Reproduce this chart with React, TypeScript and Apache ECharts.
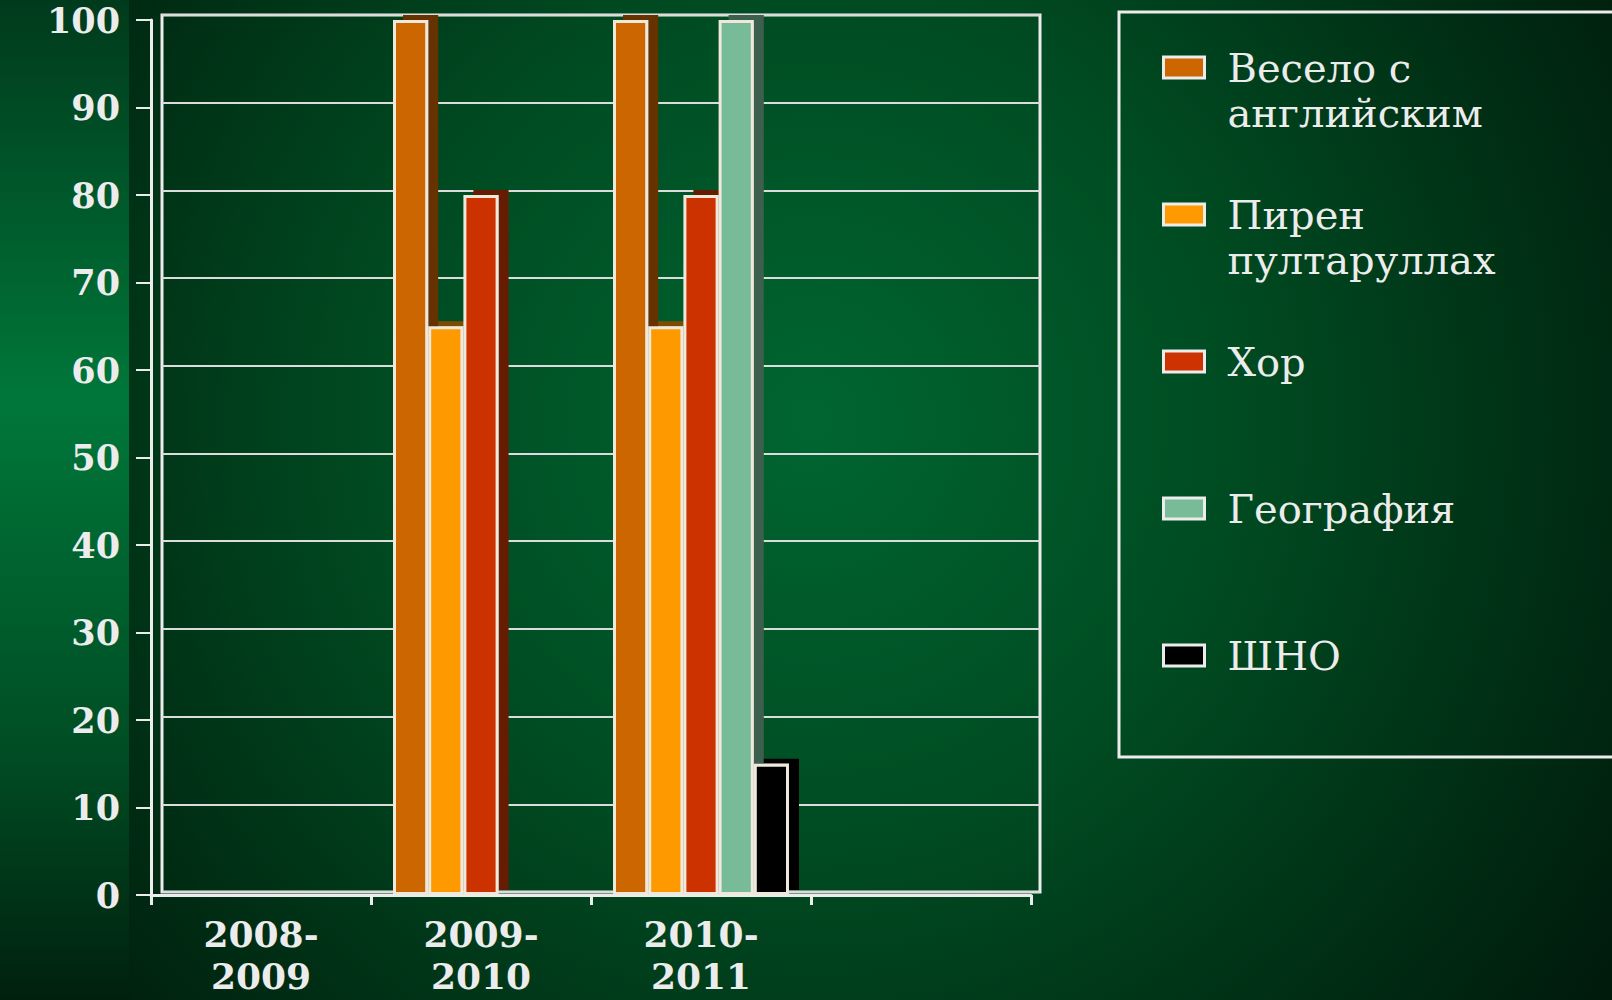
import React, { useEffect, useRef } from "react";
import * as echarts from "echarts";

const categories = ["2008-\n2009", "2009-\n2010", "2010-\n2011", ""];
const seriesNames = ["Весело с английским", "Пирен пултаруллах", "Хор", "География", "ШНО"];
const legendLabels = ["Весело с\nанглийским", "Пирен\nпултаруллах", "Хор", "География", "ШНО"];
const veseloValues = [0, 100, 100, null];
const pirenValues = [0, 65, 65, null];
const horValues = [0, 80, 80, null];
const geoValues = [0, 0, 100, null];
const shnoValues = [0, 0, 15, null];
const seriesValues = [veseloValues, pirenValues, horValues, geoValues, shnoValues];
const faceColors = ["#CC6600", "#FF9900", "#CC3300", "#77BB99", "#000000"];
const sideColors = ["#663300", "#7f4c00", "#661a00", "#3c5e4d", "#000000"];
const yMin = 0;
const yMax = 100;
const yStep = 10;

const SERIF = "'DejaVu Serif', 'Liberation Serif', serif";
const LIGHT = "#ececec";
const LEG_LH = 45;

export default function App() {
  const ref = useRef<HTMLDivElement>(null);
  useEffect(() => {
    if (!ref.current) return;
    const chart = echarts.init(ref.current, null, { renderer: "svg" });
    const richStyle = {
      t: { color: LIGHT, fontFamily: SERIF, fontSize: 40, lineHeight: LEG_LH },
    };
    chart.setOption({
      animation: false,
      backgroundColor: "#002a15",
      graphic: [
        {
          type: "rect",
          z: -10,
          silent: true,
          shape: { x: 0, y: 0, width: 1612, height: 1000 },
          style: {
            fill: {
              type: "radial",
              x: 810,
              y: 420,
              r: 980,
              global: true,
              colorStops: [
                { offset: 0, color: "#006631" },
                { offset: 0.45, color: "#004a21" },
                { offset: 0.8, color: "#002b13" },
                { offset: 1, color: "#001a0b" },
              ],
            },
          },
        },
        {
          type: "rect",
          z: -9,
          silent: true,
          shape: { x: 0, y: 0, width: 129, height: 1000 },
          style: {
            fill: {
              type: "linear",
              x: 0,
              y: 0,
              x2: 0,
              y2: 1,
              colorStops: [
                { offset: 0, color: "#003a1c" },
                { offset: 0.4, color: "#00773a" },
                { offset: 0.75, color: "#004d24" },
                { offset: 1, color: "#00200e" },
              ],
            },
          },
        },
        {
          type: "rect",
          z: 5,
          silent: true,
          shape: { x: 1119, y: 12, width: 600, height: 745 },
          style: { fill: "transparent", stroke: LIGHT, lineWidth: 3 },
        },
      ],
      grid: [
        { left: 151, right: 581, top: 20, bottom: 105, outerBoundsMode: "none", containLabel: false },
        {
          left: 162,
          width: 878,
          top: 15,
          bottom: 108,
          show: true,
          borderColor: LIGHT,
          borderWidth: 3,
          backgroundColor: "transparent",
          z: 0,
          outerBoundsMode: "none",
          containLabel: false,
        },
      ],
      xAxis: [
        {
          type: "category",
          gridIndex: 0,
          data: categories,
          axisLine: { show: true, lineStyle: { color: LIGHT, width: 3 } },
          axisTick: { show: true, length: 10, lineStyle: { color: LIGHT, width: 3 } },
          axisLabel: {
            color: LIGHT,
            fontFamily: SERIF,
            fontWeight: "bold",
            fontSize: 36,
            lineHeight: 42,
            margin: 18,
          },
          z: 3,
        },
        {
          type: "category",
          gridIndex: 1,
          data: categories,
          show: false,
        },
      ],
      yAxis: [
        {
          type: "value",
          gridIndex: 0,
          min: yMin,
          max: yMax,
          interval: yStep,
          axisLine: { show: true, lineStyle: { color: LIGHT, width: 3 } },
          axisTick: { show: true, length: 15, lineStyle: { color: LIGHT, width: 2 } },
          splitLine: { show: false },
          axisLabel: {
            color: LIGHT,
            fontFamily: SERIF,
            fontWeight: "bold",
            fontSize: 35,
            margin: 31,
          },
          z: 3,
        },
        {
          type: "value",
          gridIndex: 1,
          min: yMin,
          max: yMax,
          interval: yStep,
          axisLine: { show: false },
          axisTick: { show: false },
          axisLabel: { show: false },
          splitLine: { show: true, lineStyle: { color: "#dcdcdc", width: 2 } },
        },
      ],
      legend: {
        orient: "vertical",
        left: 1162,
        top: 0,
        padding: 0,
        itemGap: 12,
        itemWidth: 41,
        itemHeight: 21,
        icon: "rect",
        formatter: (name: string) => {
          const label = legendLabels[seriesNames.indexOf(name)] || name;
          return label
            .split("\n")
            .map((l) => `{t|${l}}`)
            .join("\n");
        },
        itemStyle: {
          borderColor: LIGHT,
          borderWidth: 3,
          shadowColor: "transparent",
          shadowBlur: 0,
          shadowOffsetX: 0,
          shadowOffsetY: 0,
        },
        textStyle: {
          color: LIGHT,
          fontFamily: SERIF,
          fontSize: 40,
          lineHeight: LEG_LH,
          rich: richStyle,
        },
        data: seriesNames.map((n, i) => ({
          name: n,
          textStyle: {
            color: LIGHT,
            fontFamily: SERIF,
            fontSize: 40,
            lineHeight: LEG_LH,
            rich: richStyle,
            padding:
              legendLabels[i].indexOf("\n") >= 0
                ? [LEG_LH, 0, 0, 18]
                : [LEG_LH, 0, LEG_LH, 18],
          },
        })),
      },
      series: seriesNames.map((name, i) => ({
        name,
        type: "bar",
        xAxisIndex: 0,
        yAxisIndex: 0,
        data: seriesValues[i],
        barGap: "0%",
        barCategoryGap: "20%",
        z: 4,
        itemStyle: {
          color: faceColors[i],
          borderColor: "#efe9dc",
          borderWidth: 3,
          shadowColor: sideColors[i],
          shadowBlur: 0,
          shadowOffsetX: 10,
          shadowOffsetY: -5,
        },
      })),
    });
    return () => chart.dispose();
  }, []);
  return (
    <div
      ref={ref}
      style={{ position: "fixed", left: 0, top: 0, width: 1612, height: 1000 }}
    />
  );
}
